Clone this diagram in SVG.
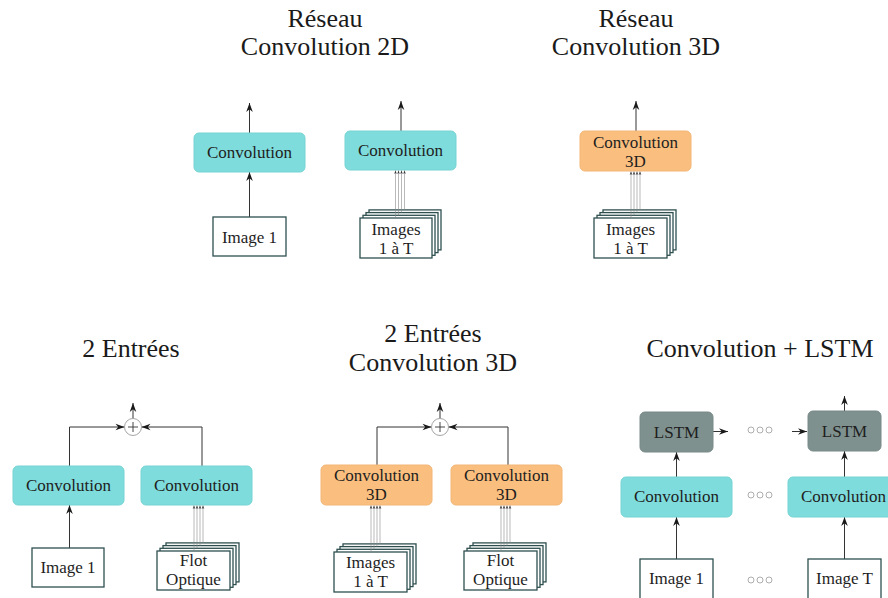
<svg xmlns="http://www.w3.org/2000/svg" width="888" height="598" viewBox="0 0 888 598" font-family="'Times New Roman', 'Liberation Serif', 'DejaVu Serif', serif">
<defs>
<marker id="ah" viewBox="-10 -5 11 10" refX="0" refY="0" markerWidth="11" markerHeight="10" markerUnits="userSpaceOnUse" orient="auto">
<path d="M0,0 L-9,-3.3 L-6.3,0 L-9,3.3 Z" fill="#1a1a1a"/>
</marker>
<marker id="sa" viewBox="-4 -2 5 4" refX="0" refY="0" markerWidth="5" markerHeight="4" markerUnits="userSpaceOnUse" orient="auto">
<path d="M0,0 L-3.5,-1.3 L-2.5,0 L-3.5,1.3 Z" fill="#333"/>
</marker>
</defs>

<g id="titles" text-anchor="middle" fill="#1a1a1a" font-size="26">
<text x="325" y="26.5">Réseau</text>
<text x="325" y="54.5">Convolution 2D</text>
<text x="636" y="26.5">Réseau</text>
<text x="636" y="54.5">Convolution 3D</text>
<text x="131" y="357">2 Entrées</text>
<text x="433" y="342">2 Entrées</text>
<text x="433" y="371">Convolution 3D</text>
<text x="760" y="357">Convolution + LSTM</text>
</g>

<g id="connectors" stroke="#333" stroke-width="1" fill="none" marker-end="url(#ah)">
<line x1="249.5" y1="217" x2="249.5" y2="172"/>
<line x1="249.5" y1="133" x2="249.5" y2="103"/>
<line x1="401" y1="131" x2="401" y2="101"/>
<line x1="636" y1="131" x2="636" y2="101"/>
<line x1="133" y1="418.5" x2="133" y2="403"/>
<path d="M69.5 466 V427 H124.5"/>
<path d="M202 466 V427 H141.5"/>
<line x1="69.5" y1="548" x2="69.5" y2="505"/>
<line x1="440" y1="418.5" x2="440" y2="403"/>
<path d="M377 465 V427 H431.5"/>
<path d="M508 465 V427 H448.5"/>
<line x1="676.5" y1="559" x2="676.5" y2="517"/>
<line x1="676.5" y1="477" x2="676.5" y2="452"/>
<line x1="713" y1="431.5" x2="728" y2="431.5"/>
<line x1="792" y1="431.5" x2="807" y2="431.5"/>
<line x1="844.5" y1="559" x2="844.5" y2="517"/>
<line x1="844.5" y1="477" x2="844.5" y2="451"/>
<line x1="844.5" y1="411" x2="844.5" y2="396"/>
</g>

<g id="convA" text-anchor="middle" font-size="17">
<rect x="194" y="133" width="111" height="39" rx="5" fill="#7FDCDC" stroke="#77d3d3"/>
<text x="249.5" y="158" fill="#1e1e1e">Convolution</text>
</g>
<g id="imgA" text-anchor="middle" font-size="17">
<rect x="213" y="217" width="73" height="39" fill="#fff" stroke="#2F4F4F" stroke-width="1.3"/>
<text x="249.5" y="242.5" fill="#1e1e1e">Image 1</text>
</g>

<g id="convB" text-anchor="middle" font-size="17">
<rect x="345" y="131" width="111" height="39" rx="5" fill="#7FDCDC" stroke="#77d3d3"/>
<text x="400.5" y="156" fill="#1e1e1e">Convolution</text>
</g>
<g id="stackB" text-anchor="middle" font-size="17">
<g fill="#fff" stroke="#2F4F4F" stroke-width="1.3">
<rect x="369" y="209.9" width="72" height="40"/>
<rect x="366" y="212.6" width="72" height="40"/>
<rect x="363" y="215.3" width="72" height="40"/>
<rect x="360" y="218" width="72" height="40"/>
</g>
<g stroke="#8a8a8a" stroke-width="0.6" marker-end="url(#sa)">
<line x1="404.5" y1="209.9" x2="404.5" y2="170.5"/>
<line x1="401.5" y1="212.6" x2="401.5" y2="170.5"/>
<line x1="398.5" y1="215.3" x2="398.5" y2="170.5"/>
<line x1="395.5" y1="218" x2="395.5" y2="170.5"/>
</g>
<text x="396" y="234.5" fill="#1e1e1e">Images</text>
<text x="396" y="253.5" fill="#1e1e1e">1 à T</text>
</g>

<g id="convC" text-anchor="middle" font-size="17">
<rect x="580" y="131" width="111" height="40" rx="5" fill="#FABE7E" stroke="#f2b676"/>
<text x="635.5" y="147.5" fill="#1e1e1e">Convolution</text>
<text x="635.5" y="166.5" fill="#1e1e1e">3D</text>
</g>
<g id="stackC" text-anchor="middle" font-size="17">
<g fill="#fff" stroke="#2F4F4F" stroke-width="1.3">
<rect x="603" y="209.9" width="73" height="40"/>
<rect x="600" y="212.6" width="73" height="40"/>
<rect x="597" y="215.3" width="73" height="40"/>
<rect x="594" y="218" width="73" height="40"/>
</g>
<g stroke="#8a8a8a" stroke-width="0.6" marker-end="url(#sa)">
<line x1="640" y1="209.9" x2="640" y2="171.5"/>
<line x1="637" y1="212.6" x2="637" y2="171.5"/>
<line x1="634" y1="215.3" x2="634" y2="171.5"/>
<line x1="631" y1="218" x2="631" y2="171.5"/>
</g>
<text x="630.5" y="234.5" fill="#1e1e1e">Images</text>
<text x="630.5" y="253.5" fill="#1e1e1e">1 à T</text>
</g>

<g id="sumD">
<circle cx="133" cy="427" r="8.5" fill="#fff" stroke="#9a9a9a" stroke-width="0.9"/>
<path d="M128 427 H138 M133 422 V432" stroke="#333" stroke-width="0.9"/>
</g>
<g id="convDL" text-anchor="middle" font-size="17">
<rect x="13" y="466" width="111" height="39" rx="5" fill="#7FDCDC" stroke="#77d3d3"/>
<text x="68.5" y="491" fill="#1e1e1e">Convolution</text>
</g>
<g id="convDR" text-anchor="middle" font-size="17">
<rect x="141" y="466" width="111" height="39" rx="5" fill="#7FDCDC" stroke="#77d3d3"/>
<text x="196.5" y="491" fill="#1e1e1e">Convolution</text>
</g>
<g id="imgD" text-anchor="middle" font-size="17">
<rect x="32" y="548" width="72" height="39" fill="#fff" stroke="#2F4F4F" stroke-width="1.3"/>
<text x="68" y="573" fill="#1e1e1e">Image 1</text>
</g>
<g id="flotD" text-anchor="middle" font-size="17">
<g fill="#fff" stroke="#2F4F4F" stroke-width="1.3">
<rect x="166" y="542.9" width="73" height="39"/>
<rect x="163" y="545.6" width="73" height="39"/>
<rect x="160" y="548.3" width="73" height="39"/>
<rect x="157" y="551" width="73" height="39"/>
</g>
<g stroke="#8a8a8a" stroke-width="0.6" marker-end="url(#sa)">
<line x1="203" y1="542.9" x2="203" y2="505.5"/>
<line x1="200" y1="545.6" x2="200" y2="505.5"/>
<line x1="197" y1="548.3" x2="197" y2="505.5"/>
<line x1="194" y1="551" x2="194" y2="505.5"/>
</g>
<text x="193.5" y="566" fill="#1e1e1e">Flot</text>
<text x="193.5" y="584.5" fill="#1e1e1e">Optique</text>
</g>

<g id="sumE">
<circle cx="440" cy="427" r="8.5" fill="#fff" stroke="#9a9a9a" stroke-width="0.9"/>
<path d="M435 427 H445 M440 422 V432" stroke="#333" stroke-width="0.9"/>
</g>
<g id="convEL" text-anchor="middle" font-size="17">
<rect x="321" y="465" width="111" height="40" rx="5" fill="#FABE7E" stroke="#f2b676"/>
<text x="376.5" y="481" fill="#1e1e1e">Convolution</text>
<text x="376.5" y="500" fill="#1e1e1e">3D</text>
</g>
<g id="convER" text-anchor="middle" font-size="17">
<rect x="451" y="465" width="111" height="40" rx="5" fill="#FABE7E" stroke="#f2b676"/>
<text x="506.5" y="481" fill="#1e1e1e">Convolution</text>
<text x="506.5" y="500" fill="#1e1e1e">3D</text>
</g>
<g id="stackE" text-anchor="middle" font-size="17">
<g fill="#fff" stroke="#2F4F4F" stroke-width="1.3">
<rect x="343" y="543.9" width="73" height="40"/>
<rect x="340" y="546.6" width="73" height="40"/>
<rect x="337" y="549.3" width="73" height="40"/>
<rect x="334" y="552" width="73" height="40"/>
</g>
<g stroke="#8a8a8a" stroke-width="0.6" marker-end="url(#sa)">
<line x1="380" y1="543.9" x2="380" y2="505.5"/>
<line x1="377" y1="546.6" x2="377" y2="505.5"/>
<line x1="374" y1="549.3" x2="374" y2="505.5"/>
<line x1="371" y1="552" x2="371" y2="505.5"/>
</g>
<text x="370.5" y="568" fill="#1e1e1e">Images</text>
<text x="370.5" y="587" fill="#1e1e1e">1 à T</text>
</g>
<g id="flotE" text-anchor="middle" font-size="17">
<g fill="#fff" stroke="#2F4F4F" stroke-width="1.3">
<rect x="473" y="542.9" width="73" height="39"/>
<rect x="470" y="545.6" width="73" height="39"/>
<rect x="467" y="548.3" width="73" height="39"/>
<rect x="464" y="551" width="73" height="39"/>
</g>
<g stroke="#8a8a8a" stroke-width="0.6" marker-end="url(#sa)">
<line x1="510" y1="542.9" x2="510" y2="505.5"/>
<line x1="507" y1="545.6" x2="507" y2="505.5"/>
<line x1="504" y1="548.3" x2="504" y2="505.5"/>
<line x1="501" y1="551" x2="501" y2="505.5"/>
</g>
<text x="500.5" y="566" fill="#1e1e1e">Flot</text>
<text x="500.5" y="584.5" fill="#1e1e1e">Optique</text>
</g>

<g id="lstm1" text-anchor="middle" font-size="17">
<rect x="640" y="412" width="73" height="40" rx="5" fill="#7F918F" stroke="#788a88"/>
<text x="676.5" y="437.5" fill="#1e1e1e">LSTM</text>
</g>
<g id="lstm2" text-anchor="middle" font-size="17">
<rect x="808" y="411" width="73" height="40" rx="5" fill="#7F918F" stroke="#788a88"/>
<text x="844.5" y="436.5" fill="#1e1e1e">LSTM</text>
</g>
<g id="convF1" text-anchor="middle" font-size="17">
<rect x="621" y="477" width="111" height="40" rx="5" fill="#7FDCDC" stroke="#77d3d3"/>
<text x="676.5" y="502" fill="#1e1e1e">Convolution</text>
</g>
<g id="convF2" text-anchor="middle" font-size="17">
<rect x="788" y="477" width="111" height="40" rx="5" fill="#7FDCDC" stroke="#77d3d3"/>
<text x="843.5" y="502" fill="#1e1e1e">Convolution</text>
</g>
<g id="imgF1" text-anchor="middle" font-size="17">
<rect x="640" y="559" width="73" height="42" fill="#fff" stroke="#2F4F4F" stroke-width="1.3"/>
<text x="676.5" y="583.5" fill="#1e1e1e">Image 1</text>
</g>
<g id="imgFT" text-anchor="middle" font-size="17">
<rect x="808" y="559" width="73" height="42" fill="#fff" stroke="#2F4F4F" stroke-width="1.3"/>
<text x="844.5" y="583.5" fill="#1e1e1e">Image T</text>
</g>
<g id="dots" fill="none" stroke="#999" stroke-width="0.8">
<circle cx="751" cy="430" r="3"/><circle cx="760" cy="430" r="3"/><circle cx="769" cy="430" r="3"/>
<circle cx="751" cy="495" r="3"/><circle cx="760" cy="495" r="3"/><circle cx="769" cy="495" r="3"/>
<circle cx="751" cy="580" r="3"/><circle cx="760" cy="580" r="3"/><circle cx="769" cy="580" r="3"/>
</g>
</svg>
